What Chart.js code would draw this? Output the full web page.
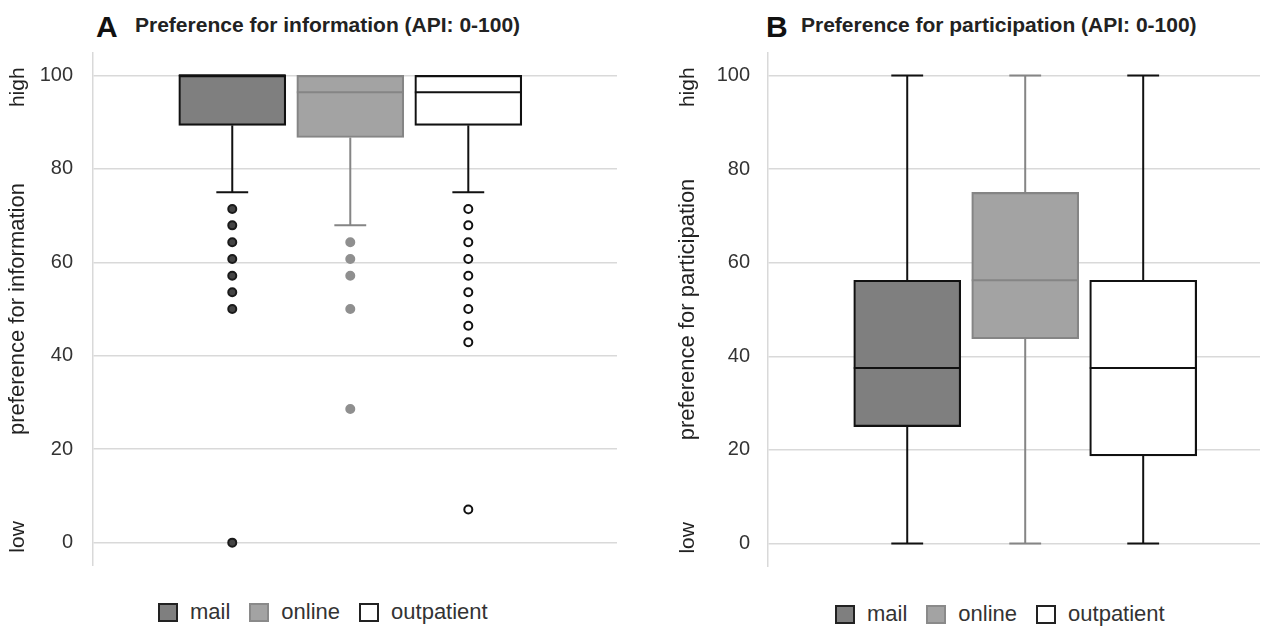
<!DOCTYPE html>
<html>
<head>
<meta charset="utf-8">
<script src="https://cdn.jsdelivr.net/npm/chart.js@4.4.0/dist/chart.umd.min.js"></script>
<style>
  html, body { margin:0; padding:0; background:#fff; }
  body { width:1285px; height:628px; position:relative; overflow:hidden; font-family:"Liberation Sans", Arial, sans-serif; color:#111; }
  .letter { position:absolute; font-weight:bold; font-size:30px; line-height:30px; color:#111; }
  .ttl { position:absolute; font-weight:bold; font-size:21px; line-height:21px; color:#222; white-space:nowrap; }
  .wrap { position:absolute; }
  .wrap canvas { display:block; }
  .legend { position:absolute; display:flex; align-items:center; font-size:22px; line-height:22px; color:#333; white-space:nowrap; }
  .legend .sw { width:16px; height:15px; border:2px solid #222; margin-right:12px; box-sizing:content-box; }
  .legend .it { display:flex; align-items:center; margin-right:19px; }
</style>
</head>
<body>
<div class="letter" style="left:96px; top:12px;">A</div>
<div class="ttl" style="left:135px; top:14px;">Preference for information (API: 0-100)</div>
<div class="letter" style="left:766px; top:12px;">B</div>
<div class="ttl" style="left:801px; top:14px;">Preference for participation (API: 0-100)</div>

<div class="wrap" style="left:0px; top:52px; width:640px; height:514px;"><canvas id="cA" width="640" height="514"></canvas></div>
<div class="wrap" style="left:670px; top:52px; width:615px; height:515px;"><canvas id="cB" width="615" height="515"></canvas></div>

<div class="legend" id="legA" style="left:158px; top:601px;"></div>
<div class="legend" id="legB" style="left:835px; top:603px;"></div>

<script>
// ---------- data ----------
const categories = ['mail', 'online', 'outpatient'];
const yTicks = [0, 20, 40, 60, 80, 100];

// Panel A: preference for information
const infoMin    = [75, 67.9, 75];
const infoQ1     = [89.3, 86.7, 89.3];
const infoMedian = [100, 96.4, 96.4];
const infoQ3     = [100, 100, 100];
const infoMax    = [100, 100, 100];
const infoOutliersMail       = [71.4, 67.9, 64.3, 60.7, 57.1, 53.6, 50, 0];
const infoOutliersOnline     = [64.3, 60.7, 57.1, 50, 28.6];
const infoOutliersOutpatient = [71.4, 67.9, 64.3, 60.7, 57.1, 53.6, 50, 46.4, 42.9, 7.1];

// Panel B: preference for participation
const partMin    = [0, 0, 0];
const partQ1     = [25, 43.75, 18.75];
const partMedian = [37.5, 56.25, 37.5];
const partQ3     = [56.25, 75, 56.25];
const partMax    = [100, 100, 100];
const partOutliersMail       = [];
const partOutliersOnline     = [];
const partOutliersOutpatient = [];

// ---------- styles ----------
const fillColors   = ['#7f7f7f', '#a3a3a3', '#ffffff'];
const strokeColors = ['#111111', '#858585', '#111111'];
const outlierFill  = ['#444444', '#8f8f8f', '#ffffff'];
const outlierEdge  = ['#1a1a1a', '#8f8f8f', '#111111'];
const BOX_W = 107;        // px
const BOX_HALF = 0.453;   // in x units (118 px per unit)
const CAP_HALF = 0.135;
const FONT = '"Liberation Sans", Arial, sans-serif';

function buildDatasets(mins, q1s, meds, q3s, maxs, outs) {
  const ds = [];
  categories.forEach((name, i) => {
    const xc = i + 1;
    ds.push({
      type: 'bar', label: name, order: 3, grouped: false,
      data: [{ x: xc, y: [q1s[i], q3s[i]] }],
      backgroundColor: fillColors[i], borderColor: strokeColors[i],
      borderWidth: 2.2, borderSkipped: false, barThickness: BOX_W
    });
    const line = (pts) => ({
      type: 'line', order: 2, data: pts, borderColor: strokeColors[i], borderWidth: 2,
      pointRadius: 0, fill: false, tension: 0, showLine: true, borderCapStyle: 'butt'
    });
    if (mins[i] < q1s[i]) {
      ds.push(line([{ x: xc, y: mins[i] }, { x: xc, y: q1s[i] }]));
      ds.push(line([{ x: xc - CAP_HALF, y: mins[i] }, { x: xc + CAP_HALF, y: mins[i] }]));
    }
    if (maxs[i] > q3s[i]) {
      ds.push(line([{ x: xc, y: q3s[i] }, { x: xc, y: maxs[i] }]));
      ds.push(line([{ x: xc - CAP_HALF, y: maxs[i] }, { x: xc + CAP_HALF, y: maxs[i] }]));
    }
    const med = line([{ x: xc - BOX_HALF, y: meds[i] }, { x: xc + BOX_HALF, y: meds[i] }]);
    med.order = 1;
    ds.push(med);
    ds.push({
      type: 'scatter', order: 0,
      data: outs[i].map(v => ({ x: xc, y: v })),
      pointRadius: 4, pointBorderWidth: 2,
      pointBackgroundColor: outlierFill[i], pointBorderColor: outlierEdge[i],
      showLine: false
    });
  });
  return ds;
}

const highLow = {
  id: 'highLow',
  afterDraw(chart) {
    const y = chart.scales.y;
    const ctx = chart.ctx;
    const x = y.left + 18.2;
    ctx.save();
    ctx.fillStyle = '#222';
    ctx.font = '21px ' + FONT;
    ctx.textBaseline = 'middle';
    ctx.translate(x, y.getPixelForValue(100) - 8);
    ctx.rotate(-Math.PI / 2);
    ctx.textAlign = 'right';
    ctx.fillText('high', 0, 0);
    ctx.restore();
    ctx.save();
    ctx.fillStyle = '#222';
    ctx.font = '21px ' + FONT;
    ctx.textBaseline = 'middle';
    ctx.translate(x, y.getPixelForValue(0) + 10);
    ctx.rotate(-Math.PI / 2);
    ctx.textAlign = 'left';
    ctx.fillText('low', 0, 0);
    ctx.restore();
  }
};

function makeChart(id, datasets, axisTitle, axisW, tickGap, xMax, padRight) {
  return new Chart(document.getElementById(id), {
    type: 'bar',
    data: { datasets },
    options: {
      responsive: false, animation: false,
      layout: { padding: { left: 0, right: padRight, top: 0, bottom: 0 }, autoPadding: false },
      plugins: { legend: { display: false }, tooltip: { enabled: false }, title: { display: false } },
      scales: {
        x: { type: 'linear', display: false, min: -0.18, max: xMax, offset: false },
        y: {
          type: 'linear', min: -5, max: 105,
          afterBuildTicks: s => { s.ticks = yTicks.map(v => ({ value: v })); },
          afterFit: s => { s.width = axisW; s.paddingTop = 0; s.paddingBottom = 0; },
          grid: { color: '#d9d9d9', lineWidth: 1.5, drawTicks: true, tickLength: tickGap, tickColor: 'rgba(0,0,0,0)' },
          border: { display: true, color: '#d9d9d9', width: 1.5 },
          ticks: { padding: 0, color: '#333', font: { family: FONT, size: 20 } },
          title: { display: true, text: axisTitle, color: '#222',
                   font: { family: FONT, size: 22 }, padding: { top: 5, bottom: 0 } }
        }
      }
    },
    plugins: [highLow]
  });
}

makeChart('cA',
  buildDatasets(infoMin, infoQ1, infoMedian, infoQ3, infoMax,
    [infoOutliersMail, infoOutliersOnline, infoOutliersOutpatient]),
  'preference for information', 93, 20, 4.26, 23);
makeChart('cB',
  buildDatasets(partMin, partQ1, partMedian, partQ3, partMax,
    [partOutliersMail, partOutliersOnline, partOutliersOutpatient]),
  'preference for participation', 98, 18, 3.99, 25);

function buildLegend(elId) {
  const el = document.getElementById(elId);
  categories.forEach((name, i) => {
    const it = document.createElement('div');
    it.className = 'it';
    const sw = document.createElement('div');
    sw.className = 'sw';
    sw.style.background = fillColors[i];
    sw.style.borderColor = i === 1 ? '#8a8a8a' : '#222';
    const tx = document.createElement('span');
    tx.textContent = name;
    it.appendChild(sw); it.appendChild(tx);
    el.appendChild(it);
  });
}
buildLegend('legA');
buildLegend('legB');
</script>
</body>
</html>
